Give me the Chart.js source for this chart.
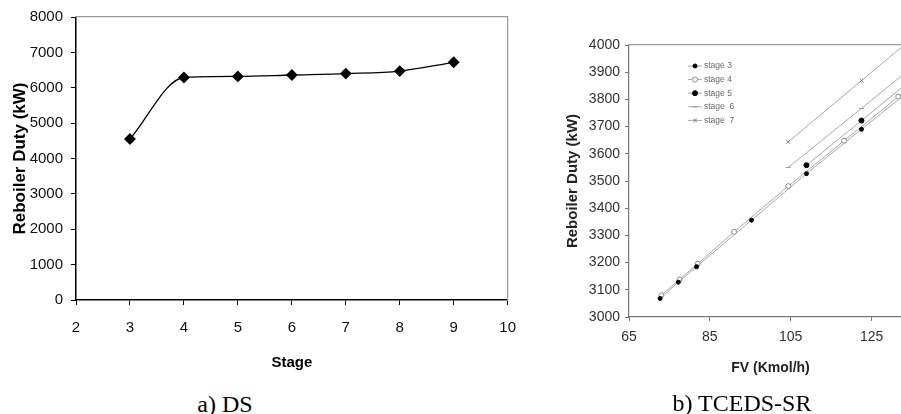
<!DOCTYPE html>
<html>
<head>
<meta charset="utf-8">
<script src="https://cdn.jsdelivr.net/npm/chart.js@4.4.1/dist/chart.umd.min.js"></script>
<style>
  html, body { margin: 0; padding: 0; background: #fff; }
  body { width: 901px; height: 414px; overflow: hidden; position: relative; }
  canvas { position: absolute; top: 0; }
  #chartA { left: 0; }
  #chartB { left: 540px; }
  .cap { position: absolute; font-family: 'Liberation Serif', 'Times New Roman', serif; font-size: 24px;
         line-height: 24px; color: #000; transform: translateX(-50%); white-space: nowrap; }
</style>
</head>
<body>
<canvas id="chartA" width="530" height="380"></canvas>
<canvas id="chartB" width="390" height="414"></canvas>
<div class="cap" style="left:225px; top:392px">a) DS</div>
<div class="cap" style="left:742px; top:391px">b) TCEDS-SR</div>
<script>
// a) DS : reboiler duty vs stage
const dsStages = [3, 4, 5, 6, 7, 8, 9];
const dsDuty = [4550, 6290, 6320, 6360, 6400, 6470, 6720];
const dsXTicks = [2, 3, 4, 5, 6, 7, 8, 9, 10];
const dsYTicks = [0, 1000, 2000, 3000, 4000, 5000, 6000, 7000, 8000];

// b) TCEDS-SR : reboiler duty vs FV, one line per stage
const fvStage3 = [72.7, 77.2, 81.7, 95.3, 108.9, 122.5, 136.1];
const dutyStage3 = [3068, 3128, 3185, 3356, 3527, 3690, 3853];
const fvStage4 = [73.0, 77.5, 82.0, 91.0, 104.4, 118.2, 131.6, 145.0];
const dutyStage4 = [3080, 3138, 3196, 3313, 3481, 3648, 3810, 3975];
const fvStage5 = [108.9, 122.5, 136.1];
const dutyStage5 = [3558, 3722, 3887];
const fvStage6 = [104.4, 122.5, 140.6];
const dutyStage6 = [3550, 3767, 3985];
const fvStage7 = [104.4, 122.5, 140.6];
const dutyStage7 = [3644, 3869, 4094];
const srLabels = ['stage 3', 'stage 4', 'stage 5', 'stage  6', 'stage  7'];
const srXTicks = [65, 85, 105, 125];
const srYTicks = [3000, 3100, 3200, 3300, 3400, 3500, 3600, 3700, 3800, 3900, 4000];

const SANS = "'Liberation Sans', Arial, sans-serif";

function pairs(xs, ys) {
  return xs.map((x, i) => ({ x: x, y: ys[i] }));
}
function useTicks(list) {
  return scale => { scale.ticks = list.map(v => ({ value: v })); };
}
const plain = v => String(v);

// thin frame line only (top / right edge of the plot area)
function frameAxis(position) {
  return {
    position: position,
    display: true,
    ticks: { display: false },
    grid: { display: false },
    border: { display: true, color: '#9a9a9a', width: 1.2 },
    afterFit: s => { if (position === 'top') s.height = 0; else s.width = 0; }
  };
}

// ---- chart a ----
new Chart(document.getElementById('chartA'), {
  type: 'line',
  data: {
    datasets: [{
      data: pairs(dsStages, dsDuty),
      borderColor: '#000',
      borderWidth: 1.3,
      cubicInterpolationMode: 'monotone',
      pointStyle: 'rectRot',
      pointRadius: 5,
      pointBackgroundColor: '#000',
      pointBorderColor: '#000'
    }]
  },
  options: {
    responsive: false,
    animation: false,
    layout: { padding: { left: 0, top: 16, right: 21, bottom: 0 } },
    plugins: { legend: { display: false }, tooltip: { enabled: false } },
    scales: {
      x: {
        type: 'linear', min: 2, max: 10,
        afterBuildTicks: useTicks(dsXTicks),
        afterFit: s => { s.height = 80; },
        ticks: { color: '#111', padding: 14, callback: plain, font: { family: SANS, size: 15 } },
        grid: { drawOnChartArea: false, color: '#000', tickLength: 5 },
        border: { color: '#000', width: 1.5 },
        title: { display: true, text: 'Stage', color: '#000', padding: { top: 0, bottom: 8 },
                 font: { family: SANS, size: 15, weight: 'bold' } }
      },
      y: {
        min: 0, max: 8000,
        afterBuildTicks: useTicks(dsYTicks),
        afterFit: s => { s.width = 76; },
        ticks: { color: '#111', padding: 8, callback: plain, font: { family: SANS, size: 15 } },
        grid: { drawOnChartArea: false, color: '#000', tickLength: 5 },
        border: { color: '#000', width: 1.5 },
        title: { display: true, text: 'Reboiler Duty (kW)', color: '#000', padding: { top: 10, bottom: 0 },
                 font: { family: SANS, size: 17, weight: 'bold' } }
      },
      xTop: frameAxis('top'),
      yRight: frameAxis('right')
    }
  }
});

// ---- chart b ----
const innerLegend = {
  id: 'innerLegend',
  afterDatasetsDraw(chart) {
    const ctx = chart.ctx;
    ctx.save();
    chart.data.datasets.forEach((ds, i) => {
      const y = 66 + i * 13.6;
      const x0 = 148;
      ctx.strokeStyle = ds.borderColor;
      ctx.lineWidth = 1;
      ctx.beginPath();
      ctx.moveTo(x0, y);
      ctx.lineTo(x0 + 14, y);
      ctx.stroke();
      ctx.fillStyle = ds.pointBackgroundColor;
      ctx.strokeStyle = ds.pointBorderColor;
      if (Chart.helpers && Chart.helpers.drawPoint) {
        Chart.helpers.drawPoint(ctx, { pointStyle: ds.pointStyle, radius: ds.pointRadius, borderWidth: 1, rotation: 0 }, x0 + 7, y);
      }
      ctx.fillStyle = '#6a6a6a';
      ctx.font = '8.5px ' + SANS;
      ctx.textBaseline = 'middle';
      ctx.textAlign = 'left';
      ctx.fillText(ds.label, x0 + 16, y);
    });
    ctx.restore();
  }
};

function stageSet(label, xs, ys, style, radius, fill, edge) {
  return {
    label: label,
    data: pairs(xs, ys),
    borderColor: '#a8a8a8',
    borderWidth: 1,
    tension: 0,
    pointStyle: style,
    pointRadius: radius,
    pointBorderWidth: 1,
    pointBackgroundColor: fill,
    pointBorderColor: edge
  };
}

new Chart(document.getElementById('chartB'), {
  type: 'line',
  data: {
    datasets: [
      stageSet(srLabels[0], fvStage3, dutyStage3, 'circle', 2, '#000', '#000'),
      stageSet(srLabels[1], fvStage4, dutyStage4, 'circle', 2.5, '#fff', '#8a8a8a'),
      stageSet(srLabels[2], fvStage5, dutyStage5, 'circle', 2.5, '#000', '#000'),
      stageSet(srLabels[3], fvStage6, dutyStage6, 'line', 2.5, '#999', '#999'),
      stageSet(srLabels[4], fvStage7, dutyStage7, 'crossRot', 2.5, '#777', '#777')
    ]
  },
  plugins: [innerLegend],
  options: {
    responsive: false,
    animation: false,
    layout: { padding: { left: 0, top: 45, right: 18, bottom: 37 } },
    plugins: { legend: { display: false }, tooltip: { enabled: false } },
    scales: {
      x: {
        type: 'linear', min: 65, max: 135,
        afterBuildTicks: useTicks(srXTicks),
        afterFit: s => { s.height = 60; },
        ticks: { color: '#333', padding: 8, callback: plain, font: { family: SANS, size: 14 } },
        grid: { drawOnChartArea: false, color: '#777', tickLength: 4 },
        border: { color: '#777', width: 1.2 },
        title: { display: true, text: 'FV (Kmol/h)', color: '#222', padding: { top: 0, bottom: 0 },
                 font: { family: SANS, size: 14, weight: 'bold' } }
      },
      y: {
        min: 3000, max: 4000,
        afterBuildTicks: useTicks(srYTicks),
        afterFit: s => { s.width = 89; },
        ticks: { color: '#333', padding: 5, callback: plain, font: { family: SANS, size: 14 } },
        grid: { drawOnChartArea: false, color: '#777', tickLength: 4 },
        border: { color: '#777', width: 1.2 },
        title: { display: true, text: 'Reboiler Duty (kW)', color: '#222', padding: { top: 24, bottom: 0 },
                 font: { family: SANS, size: 15, weight: 'bold' } }
      },
      xTop: frameAxis('top')
    }
  }
});
</script>
</body>
</html>
